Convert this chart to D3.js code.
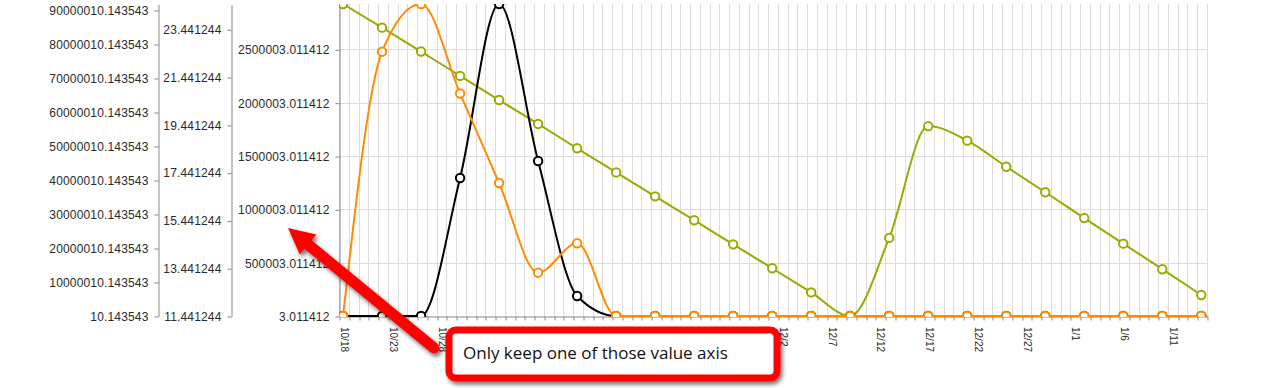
<!DOCTYPE html>
<html>

<head>
    <meta charset="utf-8" />
    <title>Three value axes</title>
    <script src="https://d3js.org/d3.v7.min.js"></script>
    <style>
        body {
            margin: 0;
            background: #fff;
        }

        svg {
            display: block;
        }

        .axis text {
            font-family: "Liberation Sans", Arial, sans-serif;
            font-size: 12px;
            letter-spacing: 0.16px;
            fill: #2a2a2a;
        }

        .axis path,
        .axis line {
            stroke: #888;
        }
    </style>
</head>

<body>
    <div id="my_dataviz"></div>
</body>

</html>
<script>
    // one reading every 4 days
    const dates = [
        "2012-10-18 10:00", "2012-10-22 10:00", "2012-10-26 10:00", "2012-10-30 10:00",
        "2012-11-03 10:00", "2012-11-07 10:00", "2012-11-11 10:00", "2012-11-15 10:00",
        "2012-11-19 10:00", "2012-11-23 10:00", "2012-11-27 10:00", "2012-12-01 10:00",
        "2012-12-05 10:00", "2012-12-09 10:00", "2012-12-13 10:00", "2012-12-17 10:00",
        "2012-12-21 10:00", "2012-12-25 10:00", "2012-12-29 10:00", "2013-01-02 10:00",
        "2013-01-06 10:00", "2013-01-10 10:00", "2013-01-14 10:00"
    ];

    // series values (each one has its own value axis)
    const seriesBlack = [
        10.143543, 10.143543, 10.143543, 40600000, 91760000, 45600000, 5880000, 10.143543,
        10.143543, 10.143543, 10.143543, 10.143543, 10.143543, 10.143543, 10.143543, 10.143543,
        10.143543, 10.143543, 10.143543, 10.143543, 10.143543, 10.143543, 10.143543
    ];
    const seriesGreen = [
        24.50, 23.51, 22.51, 21.49, 20.48, 19.48, 18.46, 17.45,
        16.45, 15.45, 14.44, 13.44, 12.43, 11.441244, 14.71, 19.39,
        18.78, 17.69, 16.62, 15.54, 14.47, 13.40, 12.32
    ];
    const seriesOrange = [
        3.011412, 2478000, 2925003.011412, 2086000, 1247000, 406000, 681600, 3.011412,
        3.011412, 3.011412, 3.011412, 3.011412, 3.011412, 3.011412, 3.011412, 3.011412,
        3.011412, 3.011412, 3.011412, 3.011412, 3.011412, 3.011412, 3.011412
    ];

    // tick values of the three value axes
    const ticksBlack = [
        10.143543, 10000010.143543, 20000010.143543, 30000010.143543, 40000010.143543,
        50000010.143543, 60000010.143543, 70000010.143543, 80000010.143543, 90000010.143543
    ];
    const ticksGreen = [11.441244, 13.441244, 15.441244, 17.441244, 19.441244, 21.441244, 23.441244];
    const ticksOrange = [3.011412, 500003.011412, 1000003.011412, 1500003.011412, 2000003.011412, 2500003.011412];

    // category axis
    const dayStart = "2012-10-18", dayEnd = "2013-01-15";
    const dateLabels = [
        "2012-10-18", "2012-10-23", "2012-10-28", "2012-11-02", "2012-11-07", "2012-11-12",
        "2012-11-17", "2012-11-22", "2012-11-27", "2012-12-02", "2012-12-07", "2012-12-12",
        "2012-12-17", "2012-12-22", "2012-12-27", "2013-01-01", "2013-01-06", "2013-01-11"
    ];

    const W = 1266, H = 388;
    const plot = { left: 339, right: 1207, top: 4, bottom: 316 };
    const axisX = [158, 231, 339];

    const parseTime = d3.timeParse("%Y-%m-%d %H:%M");
    const parseDay = d3.timeParse("%Y-%m-%d");

    const svg = d3.select("#my_dataviz")
        .append("svg")
        .attr("width", W)
        .attr("height", H);

    const defs = svg.append("defs");
    defs.append("clipPath").attr("id", "plotClip")
        .append("rect")
        .attr("x", plot.left).attr("y", plot.top)
        .attr("width", plot.right - plot.left).attr("height", plot.bottom - plot.top + 1);
    defs.append("filter").attr("id", "shadow")
        .attr("x", "-20%").attr("y", "-20%").attr("width", "140%").attr("height", "150%")
        .append("feDropShadow")
        .attr("dx", 2).attr("dy", 3).attr("stdDeviation", 2)
        .attr("flood-color", "#000").attr("flood-opacity", 0.55);

    // scales
    const x = d3.scaleTime()
        .domain([parseDay(dayStart), parseDay(dayEnd)])
        .range([plot.left, plot.right]);

    const yBlack = d3.scaleLinear().domain(d3.extent(seriesBlack)).range([plot.bottom, plot.top]);
    const yGreen = d3.scaleLinear().domain(d3.extent(seriesGreen)).range([plot.bottom, plot.top]);
    const yOrange = d3.scaleLinear().domain(d3.extent(seriesOrange)).range([plot.bottom, plot.top]);

    // grid
    const grid = svg.append("g").attr("stroke", "#dcdcdc").attr("stroke-width", 1);
    const days = d3.timeDay.range(x.domain()[0], d3.timeDay.offset(x.domain()[1], 1));
    grid.selectAll("line.v")
        .data(days)
        .join("line")
        .attr("class", "v")
        .attr("x1", d => Math.round(x(d)) + 0.5).attr("x2", d => Math.round(x(d)) + 0.5)
        .attr("y1", plot.top).attr("y2", plot.bottom);
    grid.selectAll("line.h")
        .data(ticksOrange.slice(1))
        .join("line")
        .attr("class", "h")
        .attr("x1", plot.left).attr("x2", plot.right)
        .attr("y1", d => Math.round(yOrange(d)) + 0.5).attr("y2", d => Math.round(yOrange(d)) + 0.5);

    // value axes
    const fmt = d3.format(".6f");
    [[yBlack, ticksBlack], [yGreen, ticksGreen], [yOrange, ticksOrange]].forEach(([scale, ticks], i) => {
        svg.append("g")
            .attr("class", "axis")
            .attr("transform", `translate(${axisX[i] + 0.5},0.5)`)
            .call(d3.axisLeft(scale).tickValues(ticks).tickFormat(fmt)
                .tickSize(4).tickSizeOuter(0).tickPadding(6));
    });

    // category axis
    const xAxis = svg.append("g")
        .attr("class", "axis")
        .attr("transform", `translate(0.5,${plot.bottom + 0.5})`)
        .call(d3.axisBottom(x).ticks(d3.timeDay.every(1)).tickFormat("").tickSize(4).tickSizeOuter(0));
    xAxis.selectAll(".tick line").attr("transform", d => `translate(${Math.round(x(d)) - x(d)},0)`);

    const labelFmt = d3.timeFormat("%-m/%-d");
    svg.append("g")
        .attr("class", "axis")
        .selectAll("text")
        .data(dateLabels.map(parseDay))
        .join("text")
        .attr("transform", d => `translate(${x(d)},${plot.bottom})rotate(90)`)
        .attr("x", 11)
        .attr("y", -2)
        .style("font-size", "10px")
        .style("letter-spacing", "0px")
        .text(d => labelFmt(d));

    // series
    const series = [
        { values: seriesGreen, y: yGreen, color: "#99aa00" },
        { values: seriesBlack, y: yBlack, color: "#000000" },
        { values: seriesOrange, y: yOrange, color: "#ff8c00" }
    ];

    const plotArea = svg.append("g").attr("clip-path", "url(#plotClip)");

    series.forEach(s => {
        const pts = dates.map((d, i) => [x(parseTime(d)), s.y(s.values[i])]);
        plotArea.append("path")
            .attr("d", d3.line().curve(d3.curveMonotoneX)(pts))
            .attr("fill", "none")
            .attr("stroke", s.color)
            .attr("stroke-width", 2);
        plotArea.append("g")
            .selectAll("circle")
            .data(pts)
            .join("circle")
            .attr("cx", d => d[0])
            .attr("cy", d => d[1])
            .attr("r", 4.2)
            .attr("fill", "#fff")
            .attr("stroke", s.color)
            .attr("stroke-width", 2);
    });

    // annotation: arrow + note box
    const note = svg.append("g").attr("filter", "url(#shadow)");
    const tip = [288, 228], tail = [434, 348];
    const ang = Math.atan2(tail[1] - tip[1], tail[0] - tip[0]);
    const ux = Math.cos(ang), uy = Math.sin(ang), px = -uy, py = ux;
    const headLen = 26, headHalf = 13;
    const base = [tip[0] + ux * headLen, tip[1] + uy * headLen];
    note.append("line")
        .attr("x1", base[0] - ux * 2).attr("y1", base[1] - uy * 2)
        .attr("x2", tail[0]).attr("y2", tail[1])
        .attr("stroke", "#ff0000").attr("stroke-width", 11).attr("stroke-linecap", "round");
    note.append("path")
        .attr("d", d3.line()([
            tip,
            [base[0] + px * headHalf, base[1] + py * headHalf],
            [base[0] - px * headHalf, base[1] - py * headHalf]
        ]) + "Z")
        .attr("fill", "#ff0000");

    note.append("rect")
        .attr("x", 449).attr("y", 330)
        .attr("width", 328).attr("height", 48)
        .attr("rx", 7)
        .attr("fill", "#fff")
        .attr("stroke", "#ff0000")
        .attr("stroke-width", 7);

    const noteText = svg.append("text")
        .attr("x", 463)
        .attr("y", 359)
        .style("font-family", "'Open Sans', 'Noto Sans', sans-serif")
        .style("font-size", "17px")
        .style("fill", "#111")
        .text("Only keep one of those value axis");
    const w = noteText.node().getComputedTextLength();
    noteText.style("font-size", (17 * 265 / w).toFixed(2) + "px");
</script>
